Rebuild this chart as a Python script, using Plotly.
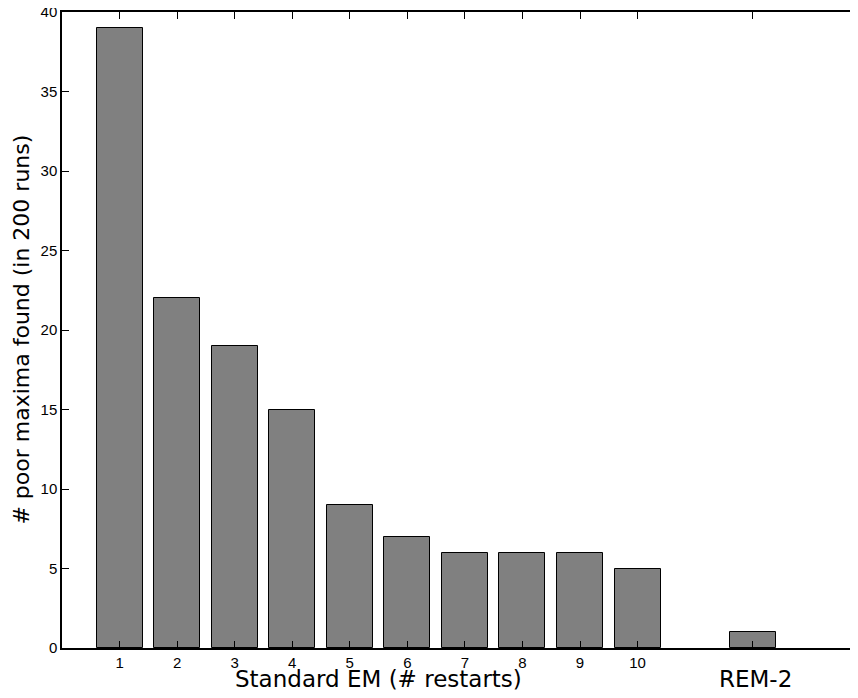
import plotly.graph_objects as go

positions = [1, 2, 3, 4, 5, 6, 7, 8, 9, 10, 12]
values = [39, 22, 19, 15, 9, 7, 6, 6, 6, 5, 1]
tick_labels = ["1", "2", "3", "4", "5", "6", "7", "8", "9", "10", ""]
y_ticks = [0, 5, 10, 15, 20, 25, 30, 35, 40]
group_label = "Standard EM (# restarts)"
rem_label = "REM-2"
y_label = "# poor maxima found (in 200 runs)"

fig = go.Figure()
fig.add_trace(go.Bar(
    x=positions, y=values, width=0.8,
    marker=dict(color="#808080", line=dict(color="black", width=1)),
))

label_font = dict(family="DejaVu Sans", size=23, color="black")
fig.add_annotation(x=5.5, y=0, xref="x", yref="paper", text=group_label,
                   showarrow=False, yanchor="top", yshift=-16, font=label_font)
fig.add_annotation(x=12.05, y=0, xref="x", yref="paper", text=rem_label,
                   showarrow=False, yanchor="top", yshift=-16, font=label_font)
fig.add_annotation(x=-0.052, y=0.5, xref="paper", yref="paper", text=y_label,
                   showarrow=False, textangle=-90, xanchor="center", yanchor="middle",
                   font=dict(family="DejaVu Sans", size=22, color="black"))

fig.update_layout(
    width=850, height=690,
    margin=dict(l=54, r=0, t=4, b=50),
    paper_bgcolor="white", plot_bgcolor="white",
    showlegend=False,
    bargap=0,
    xaxis=dict(range=[0, 13.83], tickvals=positions, ticktext=tick_labels,
               ticks="inside", ticklen=7, tickcolor="black", automargin=False,
               showline=True, linecolor="black", linewidth=1.5, mirror="ticks",
               showgrid=False, zeroline=False, ticklabeloverflow="allow",
               tickfont=dict(family="Liberation Sans", size=15, color="black")),
    yaxis=dict(range=[0, 40], tickvals=y_ticks, automargin=False,
               ticks="inside", ticklen=7, tickcolor="black",
               showline=True, linecolor="black", linewidth=1.5,
               showgrid=False, zeroline=False, ticklabeloverflow="allow",
               tickfont=dict(family="Liberation Sans", size=15, color="black")),
)

fig.write_html("out.html")
